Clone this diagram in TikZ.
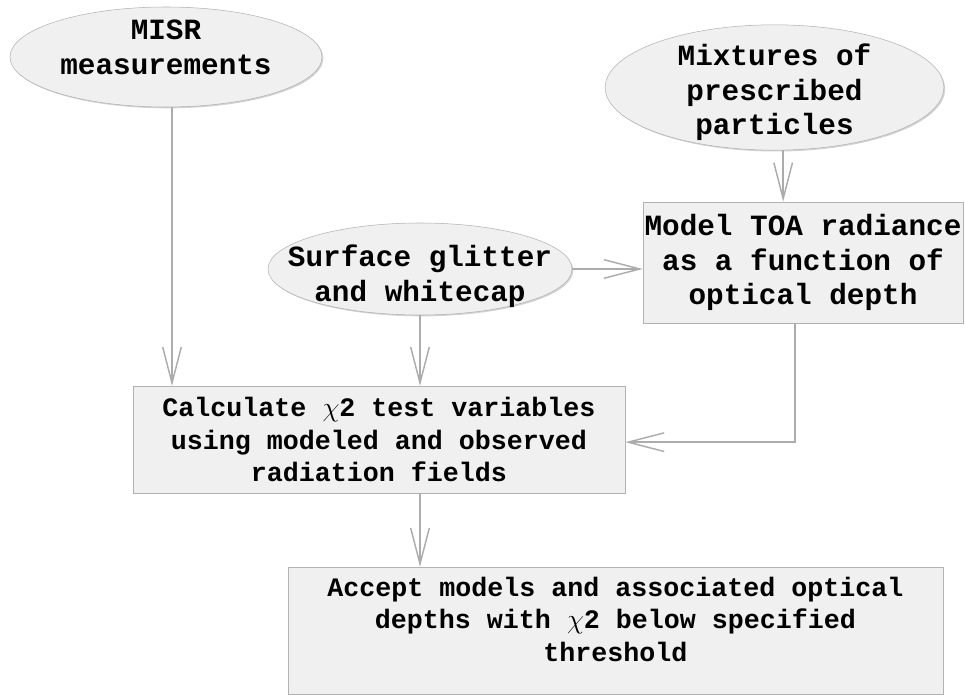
\documentclass[tikz,border=0pt]{standalone}
\usepackage{fontspec}
\setmonofont{Liberation Mono}
\usetikzlibrary{shapes.geometric,arrows.meta,shadows}
% lines of a node, kept from growing the shape, raised by #1
\newcommand{\nodelines}[2][0pt]{\makebox[0pt]{\smash{\raisebox{#1}{\begin{tabular}{@{}c@{}}#2\end{tabular}}}}}

\begin{document}
\begin{tikzpicture}[x=0.75pt, y=-0.75pt,
  oval/.style={ellipse, draw=gray!60, fill=gray!12, inner sep=0pt,
    drop shadow={shadow xshift=1pt, shadow yshift=-1pt, fill=gray!70},
    font=\ttfamily\bfseries\fontsize{22}{26}\selectfont},
  box/.style={rectangle, draw=gray!60, fill=gray!12, inner sep=0pt, align=center,
    drop shadow={shadow xshift=1pt, shadow yshift=-1pt, fill=gray!70}},
  big/.style={font=\ttfamily\bfseries\fontsize{22}{26}\selectfont},
  small/.style={font=\ttfamily\bfseries\fontsize{20}{24.5}\selectfont},
  flow/.style={draw=gray!65, line width=1.1pt, -{Straight Barb[length=27pt, width=14pt]}}]
\useasboundingbox (0,0) rectangle (965,695);

% sources
\node (misr) [oval, minimum width=234pt, minimum height=75pt] at (166,57) {\nodelines{MISR\\measurements}};
\node (mix)  [oval, minimum width=254pt, minimum height=94pt] at (774.5,87.5) {\nodelines[-9.5pt]{Mixtures of\\prescribed\\particles}};
\node (surf) [oval, minimum width=228pt, minimum height=69pt] at (420,269) {\nodelines[-11pt]{Surface glitter\\and whitecap}};

% steps
\node (toa)  [box, big, minimum width=240pt, minimum height=91pt] at (803,262.5) {Model TOA radiance\\as a function of\\optical depth};
\node (calc) [box, small, minimum width=369pt, minimum height=80pt] at (379,439.5) {Calculate $\chi$2 test variables\\using modeled and observed\\radiation fields};
\node (acc)  [box, small, minimum width=491pt, minimum height=95pt] at (615.5,630.5) {\nodelines[1pt]{Accept models and associated optical\\depths with $\chi$2 below specified\\threshold}};

\draw[flow] ([xshift=4.5pt]misr.south) -- ([xshift=4.5pt]misr.south |- calc.north);
\draw[flow] (surf.south) -- (surf.south |- calc.north);
\draw[flow] (surf.east) -- (surf.east -| toa.west);
\draw[flow] ([xshift=6.5pt]mix.south) -- ([xshift=6.5pt]mix.south |- toa.north);
\draw[flow] ([xshift=-6pt]toa.south) |- ([yshift=-2pt]calc.east);
\draw[flow] (calc.south -| surf) -- (acc.north -| surf);
\end{tikzpicture}
\end{document}
